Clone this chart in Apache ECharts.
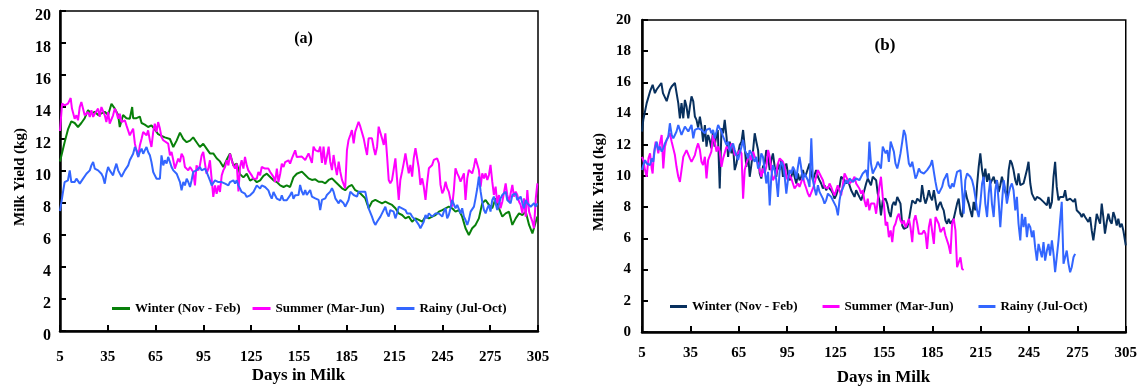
<!DOCTYPE html>
<html>
<head>
<meta charset="utf-8">
<script src="https://cdn.jsdelivr.net/npm/echarts@6/dist/echarts.min.js"></script>
<style>
html,body{margin:0;padding:0;background:#fff;}
#chart{width:1140px;height:386px;}
</style>
</head>
<body>
<div id="chart"></div>
<script>
// ---------- DATA ----------
const seriesNames = ['Winter (Nov - Feb)', 'Summer (Mar-Jun)', 'Rainy (Jul-Oct)'];
const yTicks = [0, 20, 2];          // min, max, step
const xTicks = [5, 305, 30];        // min, max, step (labels 5, 35, ... 305)
const xTitle = 'Days in Milk';
const yTitle = 'Milk Yield (kg)';
const panelLabels = ['(a)', '(b)'];

// Panel (a): [day in milk, milk yield kg]
const winterA = [[5,10.6],[7.9,11.8],[10,12.6],[12.1,13.1],[14.2,13.0],[16.3,12.75],[18.4,13.0],[20.5,13.3],[22.6,13.8],[24.7,13.6],[26.8,13.7],[28.9,13.5],[31,13.6],[33.1,13.7],[35.2,13.5],[37.3,14.2],[39.4,13.9],[41.5,13.5],[42.5,12.75],[44.6,13.5],[46.7,13.3],[48.8,13.27],[50.3,14.0],[50.9,13.3],[53,13.3],[55.1,13.4],[56.2,13.0],[58.2,12.9],[60.3,12.75],[62.4,12.85],[64.5,12.6],[66.6,12.3],[68.7,12.2],[70.8,12.1],[74,12.0],[76.1,11.5],[78.2,11.9],[80.3,12.4],[82.4,12.0],[84.5,11.8],[86.6,11.9],[88.6,12.1],[90.7,11.8],[92.8,11.5],[94.9,11.7],[97,11.4],[99.1,11.1],[101.2,11.1],[103.3,10.8],[105.4,10.6],[107.5,10.25],[109.6,10.7],[111.7,11.1],[113.8,10.35],[115.9,10.46],[118,9.8],[120.1,9.6],[122.2,9.83],[124.3,9.4],[126.4,9.52],[128.5,9.3],[130.6,9.42],[132.7,9.7],[134.8,9.83],[136.9,9.63],[139,9.42],[141.1,9.31],[143.2,9.1],[145.3,9.0],[147.3,9.1],[149.4,9.0],[151.5,9.6],[153.6,9.83],[156.8,9.96],[158.9,9.75],[161,9.54],[163.1,9.44],[165.2,9.48],[167.3,9.33],[169.4,9.33],[171.5,9.23],[173.6,9.44],[175.7,9.54],[177.8,9.33],[179.9,9.13],[182,8.92],[184,8.8],[186.1,9.02],[188.2,9.13],[190.3,8.8],[192.4,8.7],[194.5,8.5],[196.6,8.29],[198.7,7.67],[200.8,8.08],[202.9,8.19],[205,8.08],[207.1,7.98],[209.2,8.08],[211.3,7.98],[213.4,7.88],[215.5,7.67],[217.6,7.35],[219.7,7.25],[221.8,7.04],[223.9,7.15],[226,6.83],[228.1,7.04],[230.2,6.94],[232.3,6.83],[234.4,7.15],[236.5,7.04],[238.6,7.15],[240.7,7.25],[242.8,7.46],[244.9,7.56],[247,7.67],[249,7.77],[251.1,7.67],[253.2,7.46],[255.3,7.56],[257.4,7.15],[259.5,6.42],[261.6,6.0],[263.7,6.42],[265.8,6.63],[267.9,7.04],[270,7.98],[272.1,8.19],[274.2,7.88],[276.3,7.67],[278.4,8.3],[280.5,7.67],[282.6,7.15],[284.7,7.35],[286.8,7.46],[288.9,6.63],[291,7.04],[293.1,7.35],[295.2,7.25],[297.3,7.46],[299.4,6.63],[301.5,6.1],[303.6,6.83],[304.6,7.15]];

const summerA = [[5,12.5],[6.3,14.21],[7.9,14.1],[10,14.21],[11.7,14.56],[12.5,13.9],[14.2,13.27],[15.3,13.48],[16.3,13.17],[17.4,14.0],[18.4,14.31],[19.5,14.35],[20.5,13.48],[22.6,13.69],[23.7,13.38],[24.7,13.79],[25.8,13.38],[26.8,13.58],[28.9,13.9],[29.9,13.38],[31,14.0],[32,13.9],[33.1,13.48],[34.1,13.06],[35.2,13.69],[36.2,12.96],[38.3,13.48],[39.4,13.9],[40.4,13.69],[41.5,13.27],[42.5,13.58],[43.6,13.06],[44.6,12.96],[45.7,13.17],[46.7,12.85],[47.8,12.75],[48.8,12.23],[49.9,12.12],[50.9,12.65],[52,11.71],[53,11.29],[54.1,10.88],[55.1,11.6],[56.2,12.02],[57.2,12.44],[58.2,12.54],[59.3,12.23],[60.3,12.54],[61.4,11.92],[62.4,11.5],[63.5,12.44],[64.5,12.96],[65.6,12.44],[66.6,13.06],[67.7,12.65],[68.7,12.12],[69.8,11.92],[70.8,11.92],[72.9,11.71],[74,10.98],[75,11.19],[76.1,10.67],[77.1,10.15],[78.2,10.25],[79.2,10.77],[80.3,10.56],[81.3,11.08],[82.4,10.88],[83.4,10.25],[85.5,10.04],[86.6,10.25],[87.6,10.25],[88.6,9.94],[89.7,9.1],[90.7,10.35],[91.8,10.04],[92.8,10.35],[93.9,10.98],[94.9,11.19],[96,10.46],[97,9.83],[98.1,10.15],[99.1,10.67],[100.2,10.56],[101.2,8.38],[102.3,9.1],[103.3,8.58],[104.4,9.1],[105.4,8.69],[106.5,9.73],[107.5,10.04],[108.6,10.25],[109.6,10.67],[110.7,10.35],[111.7,11.08],[112.8,10.67],[113.8,10.35],[114.9,10.15],[115.9,10.46],[117,8.73],[118,10.25],[119,10.67],[120.1,10.15],[121.1,10.88],[122.2,10.35],[123.2,10.04],[124.3,10.04],[125.3,9.73],[126.4,9.52],[127.4,9.63],[128.5,9.52],[129.5,9.94],[130.6,9.73],[131.6,10.25],[133.7,10.15],[134.8,10.25],[135.8,10.15],[136.9,9.94],[137.9,10.04],[139,9.63],[140,9.31],[141.1,10.15],[142.1,9.31],[143.2,9.83],[144.2,10.46],[145.3,10.25],[146.3,10.56],[148.4,10.67],[149.4,10.46],[150.5,10.77],[152.6,11.29],[153.6,10.88],[154.7,10.9],[156.8,10.9],[158.9,10.69],[159.9,10.79],[161,11.1],[163.1,10.5],[164.1,11.52],[165.2,11.31],[166.2,11.21],[167.3,11.21],[168.3,11.52],[169.4,10.5],[170.4,11.52],[171.5,10.4],[172.5,10.9],[173.6,11.52],[174.6,10.58],[175.7,10.06],[176.7,11.0],[177.8,10.27],[178.8,9.75],[179.9,10.58],[180.9,9.96],[182,9.44],[183,9.33],[184,8.92],[185.1,11.31],[186.1,11.94],[187.2,12.25],[188.2,12.56],[189.3,11.73],[190.3,12.46],[191.4,12.56],[192.4,13.08],[193.5,12.77],[194.5,12.67],[195.6,12.04],[196.6,11.52],[197.7,11.0],[198.7,12.04],[199.8,12.15],[200.8,12.04],[201.9,11.42],[202.9,11.0],[204,11.52],[205,12.77],[206.1,12.88],[207.1,12.04],[208.2,11.63],[209.2,12.35],[210.3,10.9],[211.3,9.44],[212.3,9.23],[213.4,9.44],[214.4,9.33],[215.5,10.79],[216.5,9.54],[217.6,8.19],[218.6,9.44],[219.7,9.96],[220.7,10.48],[221.8,11.1],[222.8,10.48],[223.9,9.85],[224.9,10.38],[226,9.65],[227,10.79],[228.1,11.42],[229.1,11.31],[230.2,10.17],[231.2,9.13],[232.3,9.54],[233.3,9.02],[234.4,8.19],[235.4,9.23],[236.5,10.17],[237.5,10.27],[238.6,10.38],[239.6,10.69],[240.7,10.58],[241.7,10.79],[242.8,10.48],[243.8,9.13],[244.9,8.6],[245.9,8.81],[247,9.33],[248,8.92],[249,8.71],[250.1,8.19],[251.1,7.77],[252.2,8.81],[253.2,10.17],[254.3,9.85],[255.3,9.65],[256.4,9.33],[257.4,9.23],[258.5,9.85],[259.5,8.19],[260.6,9.54],[261.6,10.06],[262.7,10.17],[263.7,9.85],[264.8,10.27],[265.8,10.79],[266.9,10.9],[267.9,10.06],[269,9.02],[270,9.85],[271.1,9.54],[272.1,9.85],[273.2,9.44],[274.2,9.75],[275.2,10.38],[276.3,9.33],[277.3,8.5],[278.4,9.02],[279.4,7.98],[280.5,8.5],[281.5,7.67],[282.6,8.08],[284.7,9.23],[285.7,8.5],[286.8,8.08],[288.9,9.13],[289.9,8.4],[291,8.71],[292,8.5],[293.1,8.08],[294.1,7.88],[295.2,7.35],[296.2,8.29],[297.3,7.15],[298.3,8.81],[299.4,7.46],[300.4,7.15],[301.5,6.83],[302.5,6.42],[303.6,8.29],[304.6,9.23]];

const rainyA = [[5,7.5],[6.9,8.69],[7.9,9.31],[9,9.21],[10,9.42],[11.1,10.04],[12.1,9.31],[13.2,9.42],[14.2,9.31],[15.3,9.52],[16.3,9.63],[17.4,9.21],[18.4,9.31],[19.5,9.52],[20.5,9.63],[21.6,9.83],[22.6,9.94],[23.7,10.04],[24.7,10.35],[25.8,10.56],[26.8,10.15],[27.9,10.25],[28.9,10.04],[29.9,10.15],[31,9.83],[32,9.63],[33.1,9.21],[34.1,9.83],[35.2,10.25],[36.2,10.04],[37.3,10.04],[38.3,9.73],[39.4,10.15],[40.4,10.46],[41.5,10.04],[42.5,9.94],[43.6,9.63],[44.6,9.83],[45.7,10.04],[46.7,10.04],[47.8,10.35],[48.8,10.67],[49.9,10.56],[50.9,11.08],[52,11.5],[53,11.29],[54.1,10.88],[55.1,11.19],[56.2,11.4],[57.2,11.08],[58.2,11.29],[59.3,11.5],[60.3,11.19],[61.4,10.98],[62.4,10.56],[63.5,9.94],[64.5,9.73],[65.6,9.52],[66.6,9.52],[67.7,9.52],[68.7,10.98],[69.8,10.35],[70.8,10.67],[71.9,10.46],[72.9,10.88],[74,10.56],[75,10.25],[76.1,10.04],[77.1,10.04],[78.2,9.83],[79.2,9.73],[80.3,9.31],[81.3,8.79],[82.4,9.31],[83.4,9.1],[84.5,9.52],[85.5,9.31],[86.6,9.0],[87.6,9.42],[88.6,9.94],[89.7,9.83],[90.7,10.04],[91.8,9.94],[92.8,10.25],[93.9,10.04],[94.9,9.94],[96,10.15],[97,9.94],[98.1,9.83],[99.1,9.42],[100.2,9.1],[101.2,9.21],[102.3,9.42],[103.3,9.42],[104.4,9.31],[105.4,9.42],[106.5,9.31],[107.5,9.31],[108.6,9.21],[109.6,9.31],[110.7,9.1],[111.7,9.31],[112.8,9.31],[113.8,9.42],[114.9,9.21],[115.9,9.42],[117,9.1],[118,8.9],[119,8.69],[120.1,8.58],[121.1,8.58],[122.2,8.38],[123.2,8.38],[124.3,8.48],[125.3,8.38],[126.4,8.69],[127.4,8.69],[128.5,9.1],[129.5,9.21],[130.6,8.9],[131.6,9.1],[132.7,9.21],[133.7,9.0],[134.8,9.1],[135.8,8.79],[136.9,8.48],[137.9,8.27],[139,8.69],[140,8.48],[141.1,8.27],[142.1,8.38],[143.2,8.17],[144.2,8.48],[145.3,8.17],[146.3,8.06],[147.3,8.17],[148.4,8.06],[149.4,8.48],[150.5,8.69],[151.5,8.27],[152.6,8.48],[153.6,8.58],[154.7,8.5],[155.7,9.13],[156.8,8.71],[157.8,8.5],[158.9,8.81],[159.9,8.5],[161,8.6],[162,8.81],[163.1,8.4],[164.1,8.29],[165.2,8.29],[166.2,8.4],[167.3,8.19],[168.3,7.56],[169.4,8.19],[170.4,8.29],[171.5,8.29],[172.5,8.5],[173.6,8.6],[174.6,8.71],[175.7,8.92],[176.7,8.71],[177.8,8.29],[178.8,8.19],[179.9,7.98],[180.9,8.19],[182,8.08],[183,7.98],[184,7.77],[185.1,7.77],[186.1,8.19],[187.2,8.71],[188.2,8.81],[189.3,8.5],[190.3,8.6],[191.4,8.4],[192.4,8.71],[193.5,8.6],[194.5,8.71],[195.6,8.71],[196.6,8.71],[197.7,8.6],[198.7,7.67],[199.8,7.56],[200.8,7.15],[201.9,6.83],[202.9,6.63],[204,6.83],[205,6.94],[206.1,7.15],[207.1,7.35],[208.2,7.46],[209.2,7.77],[210.3,7.35],[211.3,7.15],[212.3,7.56],[213.4,7.56],[214.4,7.46],[215.5,7.04],[216.5,7.35],[217.6,7.77],[218.6,7.88],[219.7,7.67],[220.7,7.56],[221.8,7.56],[222.8,7.35],[223.9,7.46],[224.9,7.35],[226,7.15],[227,7.04],[228.1,6.94],[229.1,6.83],[230.2,6.63],[231.2,6.42],[232.3,6.31],[233.3,6.83],[234.4,7.25],[235.4,7.04],[236.5,7.35],[237.5,7.46],[238.6,7.15],[239.6,7.25],[240.7,7.35],[241.7,7.25],[242.8,7.35],[243.8,7.46],[244.9,7.15],[245.9,7.46],[247,7.67],[248,7.04],[249,7.25],[250.1,7.67],[251.1,8.19],[252.2,8.19],[253.2,7.67],[254.3,7.88],[255.3,7.77],[256.4,7.35],[257.4,7.67],[258.5,7.15],[259.5,6.94],[260.6,6.63],[261.6,6.94],[262.7,7.46],[263.7,7.46],[264.8,7.77],[265.8,8.29],[266.9,8.92],[267.9,9.65],[269,8.71],[270,8.08],[271.1,7.56],[272.1,7.35],[273.2,7.67],[274.2,7.88],[275.2,7.46],[276.3,8.19],[277.3,8.4],[278.4,7.98],[279.4,7.56],[280.5,7.98],[281.5,8.29],[282.6,8.5],[283.6,8.6],[284.7,8.71],[285.7,8.19],[286.8,8.29],[287.8,7.98],[288.9,8.5],[289.9,8.4],[291,8.6],[292,8.19],[293.1,8.08],[294.1,8.4],[295.2,7.98],[296.2,7.67],[297.3,8.19],[298.3,7.98],[299.4,7.88],[300.4,7.77],[301.5,7.67],[302.5,7.98],[303.6,7.77],[304.6,7.98]];

// Panel (b): [day in milk, milk yield kg]
const winterB = [[5,12.85],[5.8,13.6],[7.9,14.67],[10,15.42],[11.6,15.85],[13,15.31],[14,15.53],[15,15.42],[17,15.96],[18,15.31],[19.2,15.42],[20.3,14.8],[22.3,15.53],[23.4,15.74],[24.4,15.63],[25.4,15.96],[26.4,16.0],[27.5,14.67],[28.5,13.7],[29.5,14.67],[30.6,13.7],[31.6,14.88],[32.6,14.45],[33.7,13.7],[34.7,14.45],[35.7,15.1],[36.8,14.78],[37.8,13.81],[38.8,13.6],[39.8,13.1],[40.9,13.81],[41.9,13.17],[42.9,12.2],[44,13.27],[45,11.88],[46,12.63],[47,12.31],[48,11.77],[49,12.85],[50,11.88],[51,12.52],[52,12.95],[53.2,9.2],[54.3,13.06],[55.3,12.74],[56.3,13.6],[57.4,12.52],[58.4,11.23],[59.4,12.2],[60.5,11.45],[61.5,11.88],[62.5,10.38],[63.6,10.8],[64.6,11.45],[65.6,11.99],[66.7,12.2],[67.7,12.95],[68.7,11.88],[69.7,10.59],[70.8,11.45],[71.8,9.95],[72.8,10.7],[73.9,11.66],[74.9,12.74],[75.9,12.2],[77,11.66],[78,10.16],[79,9.84],[80,10.59],[81.1,10.8],[82.1,11.66],[83.2,11.23],[84.2,10.38],[85.2,11.02],[86.2,11.45],[87.3,10.59],[88.3,9.95],[89.3,10.8],[90.4,10.38],[91.4,11.02],[92.4,9.95],[93.5,10.38],[94.5,10.8],[95.5,10.16],[96.5,9.73],[97.6,9.95],[98.6,10.38],[99.6,9.95],[100.7,9.52],[101.7,10.16],[102.7,9.73],[103.8,9.95],[104.8,10.38],[105.8,9.95],[106.9,10.16],[107.9,10.48],[108.9,10.8],[110,10.16],[111,9.73],[112,10.06],[113,10.38],[114.1,9.95],[115.1,9.73],[116.1,9.52],[117.2,9.2],[118.2,9.41],[119.2,9.09],[120.3,9.3],[121.3,9.41],[122.3,9.09],[123.4,8.87],[124.4,8.55],[125.4,8.76],[126.4,9.09],[127.5,9.3],[128.5,9.95],[129.5,10.06],[130.6,9.73],[131.6,9.52],[132.6,9.73],[133.7,9.41],[134.7,9.09],[135.7,9.2],[136.8,8.66],[137.8,9.09],[138.8,8.87],[139.8,8.66],[140.9,8.44],[141.9,8.76],[142.9,9.09],[144,9.52],[145,9.84],[146,9.73],[147,9.41],[148.1,9.95],[149.1,10.06],[150.2,9.73],[151.2,8.87],[152.2,8.44],[153.2,7.48],[154.3,8.44],[155,8.34],[156,8.55],[157.1,8.23],[158.1,7.69],[159.2,7.37],[160.2,8.12],[161.2,8.34],[162.2,8.12],[163.3,8.66],[164.3,8.76],[165.3,8.23],[166.4,6.83],[167.4,6.62],[168.4,6.51],[169.5,6.72],[170.5,7.15],[171.5,7.8],[172.6,8.44],[173.6,8.55],[174.6,8.23],[175.7,8.55],[176.7,8.66],[177.7,8.34],[178.7,9.41],[179.8,8.66],[180.8,8.23],[181.8,8.55],[182.9,9.09],[183.9,8.66],[184.9,8.44],[186,9.09],[187,8.44],[188,7.8],[189,8.12],[190.1,8.34],[191.1,8.02],[192.1,7.8],[193.2,7.15],[194.2,6.94],[195.2,7.26],[196.3,6.94],[197.3,6.83],[198.3,7.26],[199.4,7.15],[200.4,8.23],[201.4,8.55],[202.5,7.58],[203.5,7.37],[204.5,8.34],[205.5,9.09],[206.6,8.55],[207.6,8.23],[208.6,7.8],[209.7,7.37],[210.7,8.34],[211.7,7.8],[212.8,9.41],[213.8,10.59],[214.8,11.45],[215.9,10.38],[216.9,9.73],[217.9,10.48],[219,9.62],[220,10.16],[221,9.52],[222,9.41],[223.1,9.95],[224.1,9.52],[225.1,9.73],[226.2,8.98],[227.2,9.41],[228.2,9.95],[229.3,9.52],[230.3,8.98],[231.3,8.66],[232.4,10.38],[233.4,11.02],[234.4,10.8],[235.4,10.38],[236.5,9.73],[237.5,9.41],[238.5,10.16],[239.6,9.41],[240.6,9.3],[241.6,9.52],[242.7,9.41],[243.7,10.38],[244.7,10.91],[245.8,9.52],[246.8,8.87],[247.8,8.76],[248.8,8.44],[249.9,8.66],[250.9,8.66],[251.9,8.55],[253,8.66],[254,8.34],[255,8.44],[256.1,8.12],[257.1,8.66],[258.1,7.91],[259.2,8.34],[260.2,9.95],[261.2,10.91],[262.2,9.3],[263.3,8.44],[264.3,8.66],[265.3,8.76],[266.4,8.66],[267.4,9.09],[268.4,8.44],[269.5,8.34],[270.5,8.55],[271.5,8.66],[272.6,8.34],[273.6,8.55],[274.6,7.8],[275.6,7.69],[276.7,7.58],[277.7,7.37],[278.7,7.58],[279.8,7.37],[280.8,7.26],[281.8,7.05],[282.9,7.37],[283.9,6.51],[284.9,5.87],[286,6.72],[287,7.58],[288,7.26],[289.1,6.94],[290.1,8.23],[291.1,7.37],[292.1,6.3],[293.2,7.05],[294.2,7.58],[295.2,7.15],[296.3,6.94],[297.3,7.69],[298.3,7.37],[299.4,6.83],[300.4,7.26],[301.4,6.72],[302.5,6.94],[303.5,6.51],[304.5,5.87],[305,5.55]];

const summerB = [[5,11.23],[5.8,11.02],[6.9,10.38],[7.9,9.95],[9,11.13],[10,11.45],[11,10.48],[11.6,10.16],[12.4,11.45],[13.5,12.2],[14.6,11.77],[15.1,11.45],[16.1,12.09],[17.2,12.63],[18.2,10.48],[19.2,11.88],[20.3,12.31],[21.3,12.52],[22.3,12.74],[23.4,12.2],[24.4,11.77],[25.4,11.34],[26.4,10.59],[27.5,9.95],[28.5,9.62],[29.5,10.38],[30.6,11.23],[31.6,11.23],[32.6,11.66],[33.7,11.77],[34.7,11.13],[35.7,10.91],[36.8,11.13],[37.8,11.34],[38.8,11.77],[39.8,12.09],[40.9,11.66],[41.9,10.91],[42.9,10.7],[44,11.23],[45,9.84],[46,11.02],[47,11.13],[48,11.56],[49.1,12.63],[50.1,12.2],[51.2,11.56],[52.2,11.88],[53.2,11.56],[54.3,10.59],[55.3,11.13],[56.3,11.02],[57.4,11.88],[58.4,11.88],[59.4,11.66],[60.5,12.09],[61.5,11.88],[62.5,11.34],[63.6,11.23],[64.6,11.45],[65.6,11.66],[66.7,11.45],[67.7,8.55],[68.7,10.38],[69.7,10.8],[70.8,11.13],[71.8,11.34],[72.8,11.02],[73.9,11.56],[74.9,11.23],[75.9,11.34],[77,10.8],[78,10.38],[79,9.95],[80,10.48],[81.1,10.16],[82.1,10.59],[83.2,11.66],[84.2,11.23],[85.2,10.38],[86.2,9.73],[87.3,9.62],[88.3,10.16],[89.3,10.8],[90.4,11.13],[91.4,11.02],[92.4,10.91],[93.5,10.59],[94.5,9.95],[95.5,9.73],[96.5,10.06],[97.6,9.84],[98.6,9.52],[99.6,9.2],[100.7,9.3],[101.7,9.52],[102.7,9.3],[103.8,9.62],[104.8,9.95],[105.8,9.52],[106.9,9.2],[107.9,8.87],[108.9,8.66],[110,8.76],[111,9.2],[112,9.52],[113,9.95],[114.1,10.38],[115.1,10.27],[116.1,9.95],[117.2,9.73],[118.2,9.3],[119.2,9.41],[120.3,9.2],[121.3,9.52],[122.3,9.3],[123.4,8.98],[124.4,8.76],[125.4,9.09],[126.4,9.41],[127.5,9.3],[128.5,8.76],[129.5,9.41],[130.6,10.16],[131.6,9.95],[132.6,9.84],[133.7,9.52],[134.7,9.41],[135.7,9.73],[136.8,9.95],[137.8,9.52],[138.8,9.41],[139.8,9.2],[140.9,8.87],[141.9,9.09],[142.9,8.44],[144,8.02],[145,8.55],[146,7.8],[147,8.23],[148.1,8.34],[149.1,8.23],[150.2,7.58],[151.2,8.44],[152.2,9.3],[153.2,9.95],[154.3,8.66],[155,8.23],[156.1,6.83],[157.1,7.05],[158.1,6.08],[159.2,6.51],[160.2,5.76],[161.2,6.72],[162.2,6.94],[163.3,7.37],[164.3,7.58],[165.3,7.15],[166.4,6.94],[167.4,7.15],[168.4,6.72],[169.5,6.94],[170.5,7.26],[171.5,6.72],[172.6,5.76],[173.6,7.15],[174.6,7.48],[175.7,6.94],[176.7,6.3],[177.7,6.4],[178.7,6.3],[179.8,6.51],[180.8,6.3],[181.8,5.33],[182.9,6.72],[183.9,7.26],[184.9,7.37],[186,5.65],[187,7.37],[188,7.48],[189,6.94],[190.1,6.4],[191.1,6.3],[192.1,6.72],[193.2,6.19],[194.2,6.08],[195.2,5.55],[196.3,5.01],[197.3,6.94],[198.3,7.26],[199.4,6.51],[200.4,4.15],[201.4,4.04],[202.5,4.79],[203.5,4.04],[204.5,3.98]];

const rainyB = [[5,10.38],[5.8,10.7],[6.9,11.02],[7.9,10.8],[9,10.91],[10,10.7],[11,11.13],[12,10.91],[13,11.77],[14.1,12.2],[15.1,11.66],[16.1,11.88],[17.2,11.56],[18.2,11.77],[19.2,12.09],[20.3,12.2],[21.3,12.52],[22.3,13.38],[23.4,12.63],[24.4,12.41],[25.4,12.63],[26.4,12.85],[27.5,13.27],[28.5,13.27],[29.5,12.63],[30.6,12.74],[31.6,13.17],[32.6,13.27],[33.7,12.85],[34.7,13.06],[35.7,13.27],[36.8,12.41],[37.8,12.95],[38.8,12.85],[39.8,13.06],[40.9,13.17],[41.9,12.95],[42.9,13.06],[44,12.74],[45,12.95],[46,12.85],[47,13.06],[48,12.74],[49.1,12.95],[50.1,12.41],[51.2,12.85],[52.2,13.27],[53.2,13.06],[54.3,12.85],[55.3,12.52],[56.3,12.63],[57.4,11.99],[58.4,12.2],[59.4,11.56],[60.5,11.88],[61.5,12.09],[62.5,11.66],[63.6,11.34],[64.6,11.02],[65.6,11.45],[66.7,11.88],[67.7,12.31],[68.7,11.66],[69.7,11.45],[70.8,11.13],[71.8,11.66],[72.8,11.45],[73.9,11.13],[74.9,10.91],[75.9,11.23],[77,10.48],[78,10.7],[79,11.45],[80,11.23],[81.1,10.38],[82.1,9.52],[83.2,10.27],[84.2,8.12],[85.2,9.95],[86.2,10.7],[87.3,10.38],[88.3,9.73],[89.3,8.66],[90.4,10.38],[91.4,10.91],[92.4,10.7],[93.5,9.95],[94.5,8.87],[95.5,9.73],[96.5,10.38],[97.6,10.16],[98.6,10.59],[99.6,10.38],[100.7,9.84],[101.7,10.59],[102.7,11.23],[103.8,10.48],[104.8,9.73],[105.8,10.16],[106.9,10.27],[107.9,9.73],[108.9,9.3],[110,12.41],[111,9.73],[112,9.2],[113,8.76],[114.1,9.41],[115.1,8.98],[116.1,8.87],[117.2,8.55],[118.2,8.23],[119.2,8.44],[120.3,8.87],[121.3,8.76],[122.3,8.66],[123.4,8.76],[124.4,8.23],[125.4,8.02],[126.5,7.48],[127.5,8.44],[128.5,8.98],[129.5,9.2],[130.6,9.3],[131.6,9.73],[132.6,9.52],[133.7,9.84],[134.7,9.73],[135.7,9.62],[136.8,9.73],[137.8,9.84],[138.8,9.95],[139.8,9.73],[140.9,9.62],[141.9,10.16],[142.9,10.06],[144,10.38],[145,9.84],[146,12.2],[147,10.8],[148.1,10.16],[149.1,10.38],[150.2,10.59],[151.2,10.91],[152.2,10.7],[153.2,10.48],[154.3,11.88],[155,11.99],[156.1,11.45],[157.1,11.66],[158.1,10.91],[159.2,12.2],[160.2,12.09],[161.2,11.56],[162.2,10.8],[163.3,10.48],[164.3,10.91],[165.3,11.45],[166.4,12.2],[167.4,12.95],[168.4,12.63],[169.5,11.66],[170.5,10.8],[171.5,10.59],[172.6,10.91],[173.6,10.38],[174.6,9.84],[175.6,10.06],[176.7,10.48],[177.7,10.27],[178.7,10.38],[179.8,10.16],[180.8,10.27],[181.8,10.38],[182.9,10.38],[183.9,10.7],[184.9,11.02],[186,10.27],[187,9.62],[188,9.09],[189,8.87],[190.1,8.87],[191.1,9.3],[192.1,9.73],[193.2,9.95],[194.2,10.16],[195.2,9.41],[196.3,9.2],[197.3,9.52],[198.3,9.3],[199.4,9.84],[200.4,10.27],[201.4,10.38],[202.5,10.38],[203.5,9.09],[204.5,7.58],[205.5,9.73],[206.6,10.16],[207.6,10.16],[208.6,9.95],[209.7,9.73],[210.7,9.3],[211.7,8.66],[212.8,7.8],[213.8,7.37],[214.8,8.23],[215.9,9.52],[216.9,9.95],[217.9,8.23],[219,7.37],[220,8.87],[221,9.73],[222,8.23],[223.1,7.37],[224.1,9.09],[225.1,9.73],[226.2,8.34],[227.2,6.72],[228.2,8.23],[229.3,9.73],[230.3,9.09],[231.3,8.23],[232.4,8.87],[233.4,9.3],[234.4,9.52],[235.4,9.09],[236.5,7.8],[237.5,8.66],[238.5,6.94],[239.6,5.87],[240.6,7.58],[241.6,6.72],[242.7,7.37],[243.7,6.08],[244.7,6.94],[245.8,6.72],[246.8,6.08],[247.8,6.51],[248.8,5.44],[249.9,4.58],[250.9,5.65],[251.9,5.22],[253,4.79],[254,5.76],[255,4.58],[256.1,5.22],[257.1,5.65],[258.1,4.9],[259.2,5.87],[260.2,5.01],[261.2,3.83],[262.2,4.79],[263.3,5.87],[264.3,7.15],[265.3,8.34],[266.4,4.37],[267.4,4.79],[268.4,5.22],[269.5,4.37],[270.5,3.83],[271.5,4.15],[272.6,4.79],[273.6,5.01]];

// ---------- CHART ----------
const FONT = '"Liberation Serif", "Times New Roman", Times, serif';
const colorsA = ['#08800a', '#ff00ff', '#3366ff'];
const colorsB = ['#08305e', '#ff00ff', '#3366ff'];

const chart = echarts.init(document.getElementById('chart'), null, {renderer: 'canvas'});

function xAxisCfg(gridIndex, margin) {
  return {
    gridIndex, type: 'value', min: xTicks[0], max: xTicks[1], interval: xTicks[2],
    axisLine: {show: true, onZero: false, lineStyle: {color: '#000', width: 2.5}},
    axisTick: {show: true, inside: true, length: 6, lineStyle: {color: '#000', width: 2}},
    axisLabel: {margin, fontSize: 15, fontWeight: 'bold', color: '#000', fontFamily: FONT, showMinLabel: true, showMaxLabel: true},
    splitLine: {show: false}
  };
}
function yAxisCfg(gridIndex, fontSize, margin, shiftDown) {
  const lbl = {margin, fontSize, fontWeight: 'bold', color: '#000', fontFamily: FONT};
  if (shiftDown) { lbl.verticalAlign = 'top'; lbl.lineHeight = shiftDown * 2; }
  return {
    gridIndex, type: 'value', min: yTicks[0], max: yTicks[1], interval: yTicks[2],
    axisLine: {show: true, onZero: false, lineStyle: {color: '#000', width: 2.5}},
    axisTick: {show: true, inside: true, length: 6, lineStyle: {color: '#000', width: 2}},
    axisLabel: lbl,
    splitLine: {show: false}
  };
}
function lineSeries(name, data, color, idx) {
  return {
    name, type: 'line', data, xAxisIndex: idx, yAxisIndex: idx,
    showSymbol: false, symbol: 'none', smooth: false,
    lineStyle: {color, width: 2}, itemStyle: {color},
    emphasis: {disabled: true}
  };
}
function legendCfg(left, top, colors, gap, w) {
  return {
    left, top, orient: 'horizontal', icon: 'rect', itemWidth: w, itemHeight: 3, itemGap: gap,
    selectedMode: false,
    textStyle: {fontFamily: FONT, fontWeight: 'bold', fontSize: 13, color: '#000'},
    data: seriesNames.map((n, i) => ({name: n, itemStyle: {color: colors[i]}}))
  };
}
function txt(text, x, y, size, rot) {
  return {
    type: 'text', x, y, rotation: rot || 0,
    style: {text, font: 'bold ' + size + 'px ' + FONT, fill: '#000', textAlign: 'center', textVerticalAlign: 'middle'}
  };
}

const option = {
  animation: false,
  backgroundColor: '#fff',
  grid: [
    {left: 60, top: 11, width: 478, height: 320, show: true, borderColor: '#000', borderWidth: 1.5, backgroundColor: 'transparent'},
    {left: 642, top: 20, width: 485, height: 312, show: true, borderColor: '#000', borderWidth: 1.5, backgroundColor: 'transparent'}
  ],
  xAxis: [xAxisCfg(0, 19), xAxisCfg(1, 14)],
  yAxis: [yAxisCfg(0, 16, 9, 4.5), yAxisCfg(1, 15, 11, 0)],
  legend: [legendCfg(107, 297, colorsA, 12, 18), legendCfg(665, 295, colorsB, 25, 17)],
  graphic: [
    txt(panelLabels[0], 303.5, 38.5, 16),
    txt(panelLabels[1], 885, 46, 17),
    txt(xTitle, 298.5, 376, 17),
    txt(xTitle, 883.5, 378, 17),
    txt(yTitle, 20, 177, 15, Math.PI / 2),
    txt(yTitle, 599, 182, 15, Math.PI / 2)
  ],
  series: [
    lineSeries(seriesNames[0], winterA, colorsA[0], 0),
    lineSeries(seriesNames[1], summerA, colorsA[1], 0),
    lineSeries(seriesNames[2], rainyA, colorsA[2], 0),
    lineSeries(seriesNames[0], winterB, colorsB[0], 1),
    lineSeries(seriesNames[1], summerB, colorsB[1], 1),
    lineSeries(seriesNames[2], rainyB, colorsB[2], 1)
  ]
};
chart.setOption(option);
</script>
</body>
</html>
